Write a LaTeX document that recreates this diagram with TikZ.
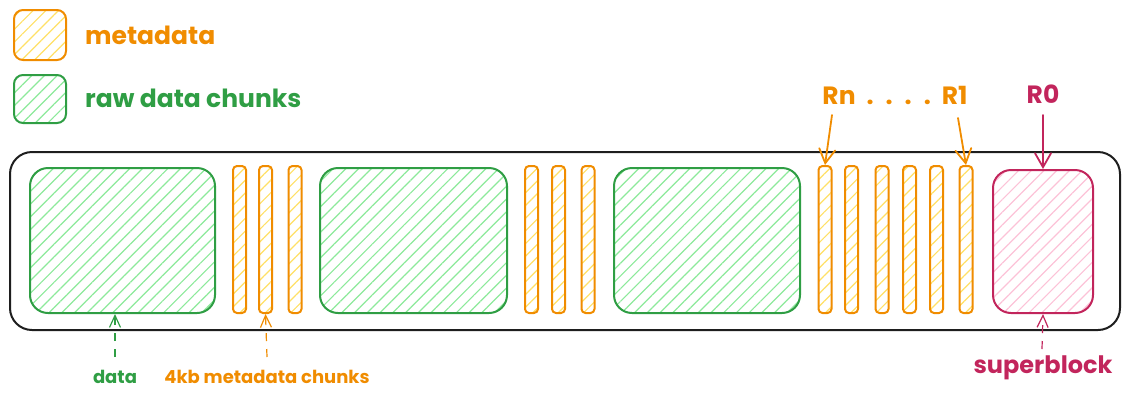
\documentclass[tikz,border=0pt]{standalone}
\usepackage{fontspec}
\setmainfont{Poppins}
\usetikzlibrary{patterns.meta,arrows.meta}
\definecolor{ostroke}{HTML}{F08C00}
\definecolor{ofill}{HTML}{FFE066}
\definecolor{gstroke}{HTML}{2F9E44}
\definecolor{gfill}{HTML}{8CE99A}
\definecolor{pstroke}{HTML}{C2255C}
\definecolor{pfill}{HTML}{FCC2D7}
\definecolor{kstroke}{HTML}{1E1E1E}
\tikzset{
  hatch/.style={pattern={Lines[angle=45,distance=9pt,line width=1.2pt]}},
  metabox/.style={draw=ostroke,line width=2pt,rounded corners=4pt,hatch,pattern color=ofill},
  databox/.style={draw=gstroke,line width=2pt,rounded corners=18pt,hatch,pattern color=gfill},
  superbox/.style={draw=pstroke,line width=2pt,rounded corners=18pt,hatch,pattern color=pfill},
  bar/.style={metabox,minimum width=13pt,minimum height=147pt,inner sep=0pt},
  lbl/.style={font=\fontsize{25}{27}\selectfont\bfseries,inner sep=0pt,anchor=west},
  small/.style={font=\fontsize{18}{20}\selectfont\bfseries,inner sep=0pt},
  big/.style={font=\fontsize{25}{27}\selectfont\bfseries,inner sep=0pt},
  arr/.style={line width=1.8pt,line cap=round,-{Straight Barb[length=14pt,width=16pt,line cap=round]}},
  darr/.style={line width=1.2pt,dash pattern=on 8pt off 8pt,-{Straight Barb[length=12pt,width=11pt]}},
}
\begin{document}
\begin{tikzpicture}[x=1pt,y=-1pt]
\useasboundingbox (0,0) rectangle (1130,400);
% legend
\node[metabox,minimum width=52pt,minimum height=50pt,rounded corners=9pt] (lm) at (40,35) {};
\node[lbl,text=ostroke] (lmt) at (85,35) {metadata};
\node[metabox,draw=gstroke,pattern color=gfill,minimum width=52pt,minimum height=48pt,rounded corners=9pt] (lg) at (40,99) {};
\node[lbl,text=gstroke] (lgt) at (85,98) {raw data chunks};
% container
\node[draw=kstroke,line width=2pt,rounded corners=22pt,minimum width=1110pt,minimum height=178pt] (cont) at (565,241) {};
% data boxes
\node[databox,minimum width=185pt,minimum height=145pt] (d1) at (122.5,240.5) {};
\node[databox,minimum width=187pt,minimum height=145pt] (d2) at (413.5,240.5) {};
\node[databox,minimum width=186pt,minimum height=145pt] (d3) at (707,240.5) {};
% metadata bars
\node[bar] (m1) at (239.5,239.5) {};
\node[bar] (m2) at (265.5,239.5) {};
\node[bar] (m3) at (295,239.5) {};
\node[bar] (m4) at (531.5,239.5) {};
\node[bar] (m5) at (558.5,239.5) {};
\node[bar] (m6) at (588,239.5) {};
\node[bar] (r6) at (825,239.5) {};
\node[bar] (r5) at (851.5,239.5) {};
\node[bar] (r4) at (882,239.5) {};
\node[bar] (r3) at (909.5,239.5) {};
\node[bar] (r2) at (936.5,239.5) {};
\node[bar] (r1) at (966,239.5) {};
% superblock
\node[superbox,minimum width=100pt,minimum height=143pt] (sb) at (1043,241.5) {};
% top labels
\node[big,text=ostroke] (rn) at (895,95) {Rn\hspace{11pt}.\hspace{12pt}.\hspace{12pt}.\hspace{12pt}.\hspace{11pt}R1};
\node[big,text=pstroke] (r0) at (1043,94) {R0};
\coordinate (rnfrom) at (832,115);
\coordinate (r1from) at (958,118);
\coordinate (r0from) at (1043,115);
\draw[arr,draw=ostroke] (rnfrom) -- (r6.north);
\draw[arr,draw=ostroke] (r1from) -- (r1.north);
\draw[arr,draw=pstroke] (r0from) -- (sb.north);
% bottom labels
\node[small,text=gstroke] (dl) at (115,377) {data};
\node[small,text=ostroke] (ml) at (267,377) {4kb metadata chunks};
\node[small,text=pstroke,font=\fontsize{24}{26}\selectfont\bfseries] (sl) at (1043,368) {superblock};
\draw[darr,draw=gstroke] (115,357) -- (d1.south -| 115,0);
\draw[darr,draw=ostroke] (267,357) -- (m2.south);
\draw[darr,draw=pstroke] (1042,349) -- (sb.south);
\end{tikzpicture}
\end{document}
